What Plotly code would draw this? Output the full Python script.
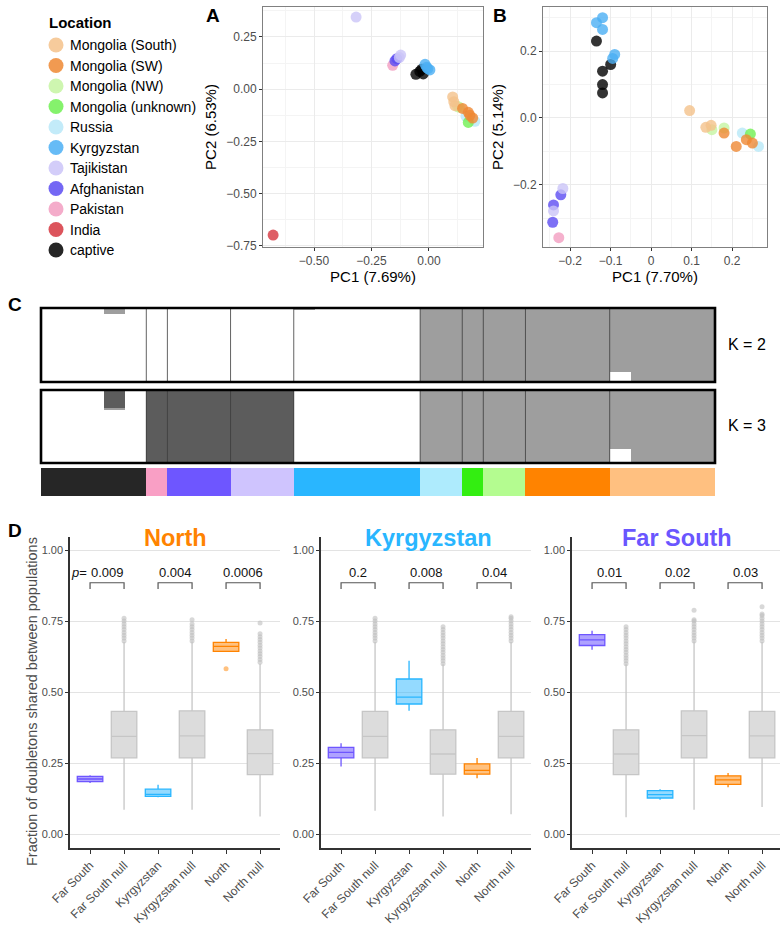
import plotly.graph_objects as go

W, H = 780, 925
FONT = "Liberation Sans, Arial, sans-serif"


def fx(p):
    return p / W


def fy(p):
    return 1 - p / H


# ---------------- Locations / legend ----------------
locations = ["Mongolia (South)", "Mongolia (SW)", "Mongolia (NW)", "Mongolia (unknown)",
             "Russia", "Kyrgyzstan", "Tajikistan", "Afghanistan", "Pakistan", "India", "captive"]
location_colors = ["#F4C28B", "#EF8833", "#C6F5A2", "#70F052", "#B8E8F8", "#4BAFF4",
                   "#CBC4F8", "#5C4CF2", "#F29DC1", "#D6363F", "#000000"]
draw_order = ["India", "Pakistan", "Afghanistan", "Tajikistan", "captive", "Kyrgyzstan",
              "Russia", "Mongolia (unknown)", "Mongolia (NW)", "Mongolia (South)", "Mongolia (SW)"]

# ---------------- Panel A (PCA) ----------------
A_loc = ["India", "Pakistan", "Afghanistan", "Afghanistan", "Tajikistan", "Tajikistan", "Tajikistan",
         "captive", "captive", "captive", "captive", "Kyrgyzstan", "Kyrgyzstan", "Kyrgyzstan", "Kyrgyzstan",
         "Russia", "Russia", "Mongolia (unknown)", "Mongolia (NW)", "Mongolia (NW)",
         "Mongolia (South)", "Mongolia (South)", "Mongolia (South)",
         "Mongolia (SW)", "Mongolia (SW)", "Mongolia (SW)", "Mongolia (SW)"]
A_pc1 = [-0.678, -0.158, -0.140, -0.148, -0.317, -0.123, -0.129,
         -0.057, -0.032, -0.025, -0.040, -0.017, 0.004, -0.010, -0.005,
         0.161, 0.200, 0.171, 0.132, 0.124,
         0.103, 0.113, 0.108,
         0.146, 0.171, 0.190, 0.178]
A_pc2 = [-0.698, 0.114, 0.146, 0.135, 0.345, 0.163, 0.151,
         0.071, 0.095, 0.073, 0.085, 0.119, 0.092, 0.105, 0.098,
         -0.130, -0.154, -0.159, -0.087, -0.082,
         -0.037, -0.079, -0.060,
         -0.092, -0.111, -0.138, -0.125]

# ---------------- Panel B (PCA) ----------------
B_loc = ["Pakistan", "Afghanistan", "Afghanistan", "Afghanistan", "Tajikistan", "Tajikistan",
         "captive", "captive", "captive", "captive", "captive",
         "Kyrgyzstan", "Kyrgyzstan", "Kyrgyzstan", "Kyrgyzstan", "Kyrgyzstan",
         "Russia", "Russia", "Mongolia (unknown)", "Mongolia (NW)", "Mongolia (NW)",
         "Mongolia (South)", "Mongolia (South)", "Mongolia (South)",
         "Mongolia (SW)", "Mongolia (SW)", "Mongolia (SW)", "Mongolia (SW)"]
B_pc1 = [-0.228, -0.223, -0.241, -0.243, -0.218, -0.241,
         -0.135, -0.120, -0.120, -0.120, -0.100,
         -0.135, -0.120, -0.120, -0.090, -0.095,
         0.225, 0.265, 0.245, 0.150, 0.180,
         0.095, 0.135, 0.148,
         0.180, 0.210, 0.235, 0.250]
B_pc2 = [-0.358, -0.230, -0.260, -0.312, -0.211, -0.278,
         0.230, 0.140, 0.100, 0.075, 0.160,
         0.285, 0.300, 0.265, 0.190, 0.178,
         -0.045, -0.085, -0.048, -0.035, -0.030,
         0.022, -0.028, -0.022,
         -0.045, -0.085, -0.065, -0.075]

# ---------------- Panel C (admixture) ----------------
adm_pops = ["captive", "Pakistan", "Afghanistan", "Tajikistan", "Kyrgyzstan", "Russia",
            "Mongolia (unknown)", "Mongolia (NW)", "Mongolia (SW)", "Mongolia (South)"]
adm_counts = [5, 1, 3, 3, 6, 2, 1, 2, 4, 5]
adm_pop_colors = ["#262626", "#F99FC5", "#6E56FF", "#CFC4FE", "#29B6FF", "#AEEBFD",
                  "#33EE11", "#B4FC90", "#FF8300", "#FFC080"]
K2_c1 = [1, 1, 1, 0.92, 1, 1, 1, 1, 1, 1, 1, 1, 0.98, 1, 1, 1, 1, 1,
         0, 0, 0, 0, 0, 0, 0, 0, 0, 0.135, 0, 0, 0, 0]
K2_c2 = [0, 0, 0, 0.08, 0, 0, 0, 0, 0, 0, 0, 0, 0.02, 0, 0, 0, 0, 0,
         1, 1, 1, 1, 1, 1, 1, 1, 1, 0.865, 1, 1, 1, 1]
K3_c1 = [1, 1, 1, 0.72, 1, 0, 0, 0, 0, 0, 0, 0, 1, 1, 1, 1, 1, 1,
         0, 0, 0, 0, 0, 0, 0, 0, 0, 0.19, 0, 0, 0, 0]
K3_c2 = [0, 0, 0, 0.03, 0, 0, 0, 0, 0, 0, 0, 0, 0, 0, 0, 0, 0, 0,
         1, 1, 1, 1, 1, 1, 1, 1, 1, 0.81, 1, 1, 1, 1]
K3_c3 = [0, 0, 0, 0.25, 0, 1, 1, 1, 1, 1, 1, 1, 0, 0, 0, 0, 0, 0,
         0, 0, 0, 0, 0, 0, 0, 0, 0, 0, 0, 0, 0, 0]
cluster_colors = ["#FFFFFF", "#9E9E9E", "#5C5C5C"]

# ---------------- Panel D (box plots) ----------------
d_categories = ["Far South", "Far South null", "Kyrgyzstan", "Kyrgyzstan null", "North", "North null"]
d_panels = ["North", "Kyrgyzstan", "Far South"]
d_panel_colors = ["#FF8300", "#29B6FF", "#6A56FF"]

north_q1 = [0.185, 0.268, 0.133, 0.268, 0.643, 0.209]
north_med = [0.194, 0.344, 0.140, 0.346, 0.661, 0.283]
north_q3 = [0.203, 0.432, 0.158, 0.434, 0.675, 0.367]
north_lo = [0.180, 0.086, 0.130, 0.086, 0.643, 0.062]
north_hi = [0.207, 0.676, 0.174, 0.678, 0.687, 0.600]
north_out_cat = ["Far South null"] * 9 + ["Kyrgyzstan null"] * 8 + ["North"] + ["North null"] * 12
north_out_val = [0.68, 0.69, 0.70, 0.71, 0.72, 0.73, 0.74, 0.75, 0.76,
                 0.68, 0.69, 0.70, 0.71, 0.72, 0.73, 0.74, 0.755,
                 0.582,
                 0.605, 0.615, 0.625, 0.635, 0.645, 0.655, 0.665, 0.675, 0.685, 0.695, 0.705, 0.743]
north_p = ["0.009", "0.004", "0.0006"]

kyrg_q1 = [0.268, 0.268, 0.458, 0.211, 0.211, 0.268]
kyrg_med = [0.288, 0.344, 0.482, 0.282, 0.224, 0.344]
kyrg_q3 = [0.305, 0.432, 0.546, 0.367, 0.247, 0.432]
kyrg_lo = [0.238, 0.082, 0.434, 0.062, 0.197, 0.070]
kyrg_hi = [0.320, 0.676, 0.610, 0.598, 0.268, 0.676]
kyrg_out_cat = ["Far South null"] * 9 + ["Kyrgyzstan null"] * 14 + ["North null"] * 10
kyrg_out_val = [0.68, 0.69, 0.70, 0.71, 0.72, 0.73, 0.74, 0.75, 0.76,
                0.60, 0.61, 0.62, 0.63, 0.64, 0.65, 0.66, 0.67, 0.68, 0.69, 0.70, 0.71, 0.72, 0.73,
                0.68, 0.69, 0.70, 0.71, 0.72, 0.73, 0.74, 0.75, 0.76, 0.765]
kyrg_p = ["0.2", "0.008", "0.04"]

fsouth_q1 = [0.664, 0.209, 0.127, 0.268, 0.175, 0.268]
fsouth_med = [0.684, 0.282, 0.139, 0.347, 0.191, 0.346]
fsouth_q3 = [0.702, 0.367, 0.153, 0.434, 0.205, 0.432]
fsouth_lo = [0.649, 0.059, 0.121, 0.086, 0.165, 0.095]
fsouth_hi = [0.716, 0.598, 0.158, 0.678, 0.215, 0.676]
fsouth_out_cat = ["Far South null"] * 14 + ["Kyrgyzstan null"] * 10 + ["North null"] * 12
fsouth_out_val = [0.60, 0.61, 0.62, 0.63, 0.64, 0.65, 0.66, 0.67, 0.68, 0.69, 0.70, 0.71, 0.72, 0.73,
                  0.68, 0.69, 0.70, 0.71, 0.72, 0.73, 0.74, 0.75, 0.755, 0.788,
                  0.68, 0.69, 0.70, 0.71, 0.72, 0.73, 0.74, 0.75, 0.76, 0.77, 0.775, 0.80]
fsouth_p = ["0.01", "0.02", "0.03"]

box_fill = ["rgba(110,86,255,0.55)", "#DCDCDC", "rgba(41,182,255,0.5)", "#DCDCDC",
            "rgba(255,131,0,0.5)", "#DCDCDC"]
box_line = ["#6E56FF", "#C6C6C6", "#29B6FF", "#C6C6C6", "#FF8300", "#C6C6C6"]
outlier_color = {"Far South null": "rgba(190,190,190,0.6)", "Kyrgyzstan null": "rgba(190,190,190,0.6)",
                 "North null": "rgba(190,190,190,0.6)", "North": "rgba(255,131,0,0.5)"}

# ================= Figure =================
fig = go.Figure()
col_of = dict(zip(locations, location_colors))
annotations = []

# manual legend on a hidden full-page pixel axis (x9 / y9)
leg_y = [45 + 20.5 * i for i in range(len(locations))]
fig.add_trace(go.Scatter(x=[56] * len(locations), y=leg_y, mode="markers",
                         marker=dict(size=15, color=location_colors, opacity=0.85),
                         xaxis="x9", yaxis="y9", showlegend=False, hoverinfo="skip"))
for loc, yy in zip(locations, leg_y):
    annotations.append(dict(x=68, y=yy, xref="x9", yref="y9", text=loc, xanchor="left", yanchor="middle",
                            showarrow=False, font=dict(size=14, color="black", family=FONT)))
annotations.append(dict(x=47, y=22, xref="x9", yref="y9", text="<b>Location</b>", xanchor="left",
                        yanchor="middle", showarrow=False, font=dict(size=15, color="black", family=FONT)))

for loc in draw_order:
    xa = [x for x, l in zip(A_pc1, A_loc) if l == loc]
    ya = [y for y, l in zip(A_pc2, A_loc) if l == loc]
    fig.add_trace(go.Scatter(x=xa, y=ya, mode="markers", showlegend=False,
                             marker=dict(size=11, color=col_of[loc], opacity=0.8),
                             xaxis="x", yaxis="y", hoverinfo="skip"))
    xb = [x for x, l in zip(B_pc1, B_loc) if l == loc]
    yb = [y for y, l in zip(B_pc2, B_loc) if l == loc]
    fig.add_trace(go.Scatter(x=xb, y=yb, mode="markers", showlegend=False,
                             marker=dict(size=11, color=col_of[loc], opacity=0.8),
                             xaxis="x2", yaxis="y2", hoverinfo="skip"))

# Panel C
n_ind = sum(adm_counts)
ind_x = list(range(n_ind))
ind_colors = []
for pop_col, c in zip(adm_pop_colors, adm_counts):
    ind_colors += [pop_col] * c

for vals, col in zip([K2_c1, K2_c2], cluster_colors):
    fig.add_trace(go.Bar(x=ind_x, y=vals, width=1, marker=dict(color=col, line=dict(width=0)),
                         xaxis="x3", yaxis="y3", showlegend=False, hoverinfo="skip"))
for vals, col in zip([K3_c1, K3_c2, K3_c3], cluster_colors):
    fig.add_trace(go.Bar(x=ind_x, y=vals, width=1, marker=dict(color=col, line=dict(width=0)),
                         xaxis="x4", yaxis="y4", showlegend=False, hoverinfo="skip"))
fig.add_trace(go.Bar(x=ind_x, y=[1] * n_ind, width=1,
                     marker=dict(color=ind_colors, line=dict(width=0)),
                     xaxis="x5", yaxis="y5", showlegend=False, hoverinfo="skip"))

shapes = []
cum = 0
for c in adm_counts[:-1]:
    cum += c
    for ax in ["3", "4"]:
        shapes.append(dict(type="line", xref="x" + ax, yref="y" + ax + " domain",
                           x0=cum - 0.5, x1=cum - 0.5, y0=0, y1=1,
                           line=dict(color="rgba(60,60,60,0.8)", width=1), layer="above"))
for ax in ["3", "4"]:
    shapes.append(dict(type="rect", xref="x" + ax + " domain", yref="y" + ax + " domain",
                       x0=0, x1=1, y0=0, y1=1, line=dict(color="black", width=2.6), layer="above"))

# Panel D
panel_stats = [
    (north_q1, north_med, north_q3, north_lo, north_hi, north_out_cat, north_out_val, north_p),
    (kyrg_q1, kyrg_med, kyrg_q3, kyrg_lo, kyrg_hi, kyrg_out_cat, kyrg_out_val, kyrg_p),
    (fsouth_q1, fsouth_med, fsouth_q3, fsouth_lo, fsouth_hi, fsouth_out_cat, fsouth_out_val, fsouth_p),
]
d_domains = [(70, 280), (321, 531), (572, 780)]
d_title_x = [175, 428, 677]
for pi, (q1, med, q3, lo, hi, ocat, oval, pv) in enumerate(panel_stats):
    xa = "x%d" % (6 + pi)
    ya = "y%d" % (6 + pi)
    for ci, cat in enumerate(d_categories):
        fig.add_trace(go.Box(x=[cat], q1=[q1[ci]], median=[med[ci]], q3=[q3[ci]],
                             lowerfence=[lo[ci]], upperfence=[hi[ci]],
                             fillcolor=box_fill[ci], line=dict(color=box_line[ci], width=1.3),
                             width=0.75, whiskerwidth=0, boxpoints=False,
                             xaxis=xa, yaxis=ya, showlegend=False, hoverinfo="skip"))
    fig.add_trace(go.Scatter(x=ocat, y=oval, mode="markers",
                             marker=dict(size=5, color=[outlier_color[c] for c in ocat]),
                             xaxis=xa, yaxis=ya, showlegend=False, hoverinfo="skip"))
    for k in range(3):
        c0, c1 = d_categories[2 * k], d_categories[2 * k + 1]
        fig.add_trace(go.Scatter(x=[c0, c0, c1, c1], y=[0.863, 0.885, 0.885, 0.863], mode="lines",
                                 line=dict(color="#555555", width=1.2),
                                 xaxis=xa, yaxis=ya, showlegend=False, hoverinfo="skip"))
        annotations.append(dict(x=2 * k + 0.5, y=0.887, xref=xa, yref=ya, text=pv[k],
                                showarrow=False, xanchor="center", yanchor="bottom",
                                font=dict(size=13, color="#111111", family=FONT)))
    annotations.append(dict(x=fx(d_title_x[pi]), y=fy(538), xref="paper", yref="paper",
                            text="<b>%s</b>" % d_panels[pi], showarrow=False,
                            xanchor="center", yanchor="middle",
                            font=dict(size=23.5, color=d_panel_colors[pi], family=FONT)))

annotations.append(dict(x=-0.32, y=0.887, xref="x6", yref="y6", text="<i>p</i>=", showarrow=False,
                        xanchor="center", yanchor="bottom", font=dict(size=13, color="#111111", family=FONT)))

# panel labels and texts
for lab, px_, py_ in [("A", 213, 15), ("B", 500, 15), ("C", 15, 305), ("D", 15, 530)]:
    annotations.append(dict(x=fx(px_), y=fy(py_), xref="paper", yref="paper", text="<b>%s</b>" % lab,
                            xanchor="center", yanchor="middle",
                            showarrow=False, font=dict(size=19, color="black", family=FONT)))
for lab, py_ in [("K = 2", 345), ("K = 3", 426)]:
    annotations.append(dict(x=fx(726), y=fy(py_), xref="paper", yref="paper", text=lab, xanchor="left",
                            yanchor="middle", showarrow=False, font=dict(size=16, color="black", family=FONT)))
annotations.append(dict(x=fx(32), y=fy(702), xref="paper", yref="paper",
                        text="Fraction of doubletons shared between populations", textangle=-90,
                        xanchor="center", yanchor="middle",
                        showarrow=False, font=dict(size=14.5, color="#4D4D4D", family=FONT)))

tickf = dict(size=12, color="#4D4D4D", family=FONT)
pca_common = dict(showgrid=True, gridcolor="#EBEBEB", gridwidth=1, zeroline=False, showline=True,
                  mirror=True, linecolor="#808080", linewidth=1, ticks="outside", ticklen=3,
                  tickcolor="#333333", tickfont=tickf, automargin=False)
hidden = dict(showgrid=False, zeroline=False, showticklabels=False, ticks="", showline=False,
              automargin=False)

layout = dict(
    width=W, height=H, autosize=False, margin=dict(l=0, r=0, t=0, b=0, autoexpand=False),
    paper_bgcolor="white", plot_bgcolor="rgba(0,0,0,0)", barmode="stack", bargap=0,
    font=dict(family=FONT),
    showlegend=False,
    xaxis=dict(domain=[fx(263), fx(483)], range=[-0.722, 0.235], tickvals=[-0.5, -0.25, 0.0],
               tickformat=".2f", minor=dict(tickvals=[-0.625, -0.375, -0.125, 0.125], showgrid=True,
                                            gridcolor="#F4F4F4", ticks=""),
               title=dict(text="PC1 (7.69%)", font=dict(size=15, color="black"), standoff=4),
               anchor="y", **pca_common),
    yaxis=dict(domain=[fy(247), fy(7)], range=[-0.755, 0.393], tickvals=[-0.75, -0.5, -0.25, 0, 0.25],
               tickformat=".2f", minor=dict(tickvals=[-0.625, -0.375, -0.125, 0.125, 0.375], showgrid=True,
                                            gridcolor="#F4F4F4", ticks=""),
               title=dict(text="PC2 (6.53%)", font=dict(size=15, color="black"), standoff=5),
               anchor="x", **pca_common),
    xaxis2=dict(domain=[fx(543), fx(767)], range=[-0.267, 0.286], tickvals=[-0.2, -0.1, 0, 0.1, 0.2],
                ticktext=["\u22120.2", "\u22120.1", "0", "0.1", "0.2"],
                minor=dict(tickvals=[-0.25, -0.15, -0.05, 0.05, 0.15, 0.25], showgrid=True,
                           gridcolor="#F4F4F4", ticks=""),
                title=dict(text="PC1 (7.70%)", font=dict(size=15, color="black"), standoff=4),
                anchor="y2", **pca_common),
    yaxis2=dict(domain=[fy(247), fy(7)], range=[-0.386, 0.332], tickvals=[-0.2, 0, 0.2], tickformat=".1f",
                minor=dict(tickvals=[-0.3, -0.1, 0.1, 0.3], showgrid=True, gridcolor="#F4F4F4", ticks=""),
                title=dict(text="PC2 (5.14%)", font=dict(size=15, color="black"), standoff=5),
                anchor="x2", **pca_common),
    xaxis3=dict(domain=[fx(41), fx(715)], range=[-0.5, n_ind - 0.5], anchor="y3", **hidden),
    yaxis3=dict(domain=[fy(382), fy(308)], range=[0, 1], anchor="x3", **hidden),
    xaxis4=dict(domain=[fx(41), fx(715)], range=[-0.5, n_ind - 0.5], anchor="y4", **hidden),
    yaxis4=dict(domain=[fy(463), fy(390)], range=[0, 1], anchor="x4", **hidden),
    xaxis5=dict(domain=[fx(41), fx(715)], range=[-0.5, n_ind - 0.5], anchor="y5", **hidden),
    yaxis5=dict(domain=[fy(496), fy(468)], range=[0, 1], anchor="x5", **hidden),
    xaxis9=dict(domain=[0, 1], range=[0, W], anchor="y9", **hidden),
    yaxis9=dict(domain=[0, 1], range=[H, 0], anchor="x9", **hidden),
    shapes=shapes,
    annotations=annotations,
)

for pi, (l, r) in enumerate(d_domains):
    n = 6 + pi
    rng_hi = -0.59 + (r - l) / 34.0
    layout["xaxis%d" % n] = dict(domain=[fx(l), fx(r)], type="category", categoryorder="array",
                                 categoryarray=d_categories, range=[-0.59, rng_hi], anchor="y%d" % n,
                                 showline=True, linecolor="#333333", linewidth=1.5, showgrid=False,
                                 ticks="outside", ticklen=4, tickcolor="#333333", tickangle=-45,
                                 tickfont=dict(size=12, color="#4D4D4D", family=FONT), zeroline=False,
                                 automargin=False)
    layout["yaxis%d" % n] = dict(domain=[fy(848), fy(537)], range=[-0.049, 1.046],
                                 tickvals=[0, 0.25, 0.5, 0.75, 1.0], tickformat=".2f",
                                 anchor="x%d" % n, showline=True, linecolor="#333333", linewidth=1.5,
                                 showgrid=True, gridcolor="#E3E3E3", gridwidth=1, zeroline=False,
                                 ticks="outside", ticklen=3, tickcolor="#333333",
                                 tickfont=dict(size=11, color="#4D4D4D", family=FONT), automargin=False)

fig.update_layout(**layout)
fig.write_html("out.html")
